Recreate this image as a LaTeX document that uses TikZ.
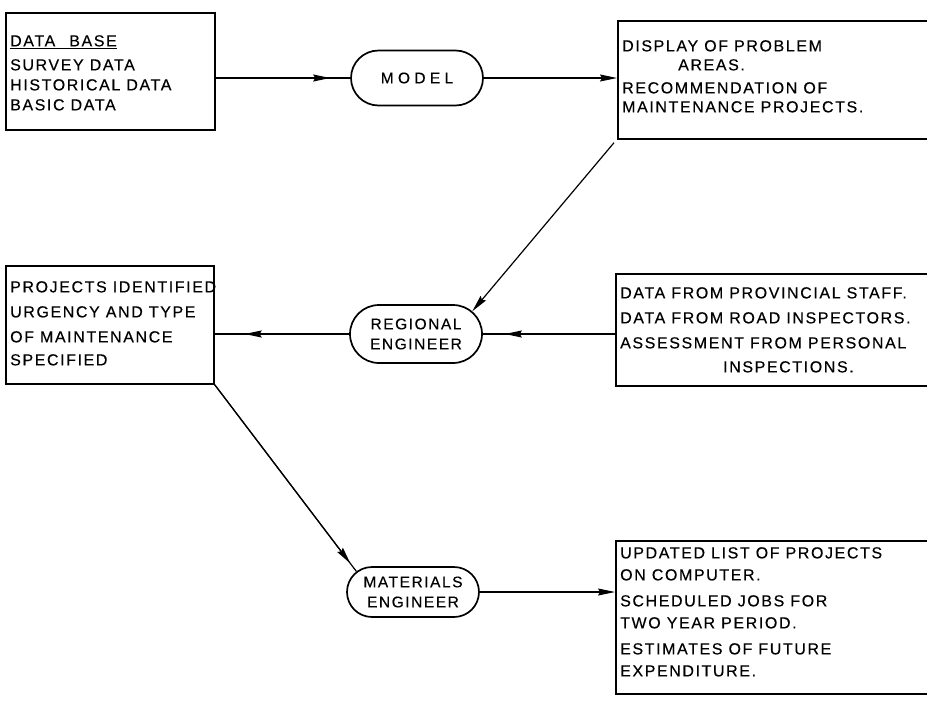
\documentclass[tikz,border=0pt]{standalone}
\usepackage{fontspec}
\setmainfont{Liberation Sans}[LetterSpace=10,FakeBold=0.3]
\usetikzlibrary{arrows.meta,calc,shapes.misc}

\begin{document}
\begin{tikzpicture}[x=1pt,y=-1pt,
  box/.style={draw, line width=1.7pt, inner sep=0pt, anchor=north west},
  term/.style={draw, rounded rectangle, line width=1.7pt, minimum width=136pt,
    align=center, inner sep=2pt, font=\fontsize{15.5}{20}\selectfont},
  lbl/.style={anchor=north west, align=left, inner sep=0pt},
  link/.style={line width=1.2pt},
  arrowed/.style={link, -{Stealth[length=17pt,width=7pt,inset=2pt]}}
]
\useasboundingbox (0,0) rectangle (927,702);
\fill[white] (0,0) rectangle (927,702);

% data base
\node[box, minimum width=209pt, minimum height=117pt] (db) at (5,12) {};
\node[lbl, font=\fontsize{16}{20}\selectfont] (dbtext) at (10,35)
  {\underline{DATA\hspace{14pt}BASE}\\[4pt] SURVEY DATA\\ HISTORICAL DATA\\ BASIC DATA};

% model
\node[term, minimum height=55pt] (model) at (417,78)
  {\addfontfeature{LetterSpace=28}MODEL};

% display of problem areas (box runs off the right edge)
\node[box, minimum width=350pt, minimum height=118pt] (disp) at (617,20) {};
\node[lbl, font=\fontsize{16}{19}\selectfont] (disptext) at (622,40)
  {DISPLAY OF PROBLEM\\ \hspace*{56pt}AREAS.\\[4pt] RECOMMENDATION OF\\ MAINTENANCE PROJECTS.};

% regional engineer
\node[term, minimum height=58pt] (reg) at (416,334) {REGIONAL\\ENGINEER};

% projects identified
\node[box, minimum width=208pt, minimum height=118pt] (proj) at (5,265) {};
\node[lbl, font=\fontsize{16}{25}\selectfont] (projtext) at (10,281)
  {PROJECTS IDENTIFIED\\ URGENCY AND TYPE\\ OF MAINTENANCE\\[-2pt] SPECIFIED};

% data from provincial staff
\node[box, minimum width=350pt, minimum height=112pt] (prov) at (615,273) {};
\node[lbl, font=\fontsize{16}{25}\selectfont] (provtext) at (620,287)
  {DATA FROM PROVINCIAL STAFF.\\ DATA FROM ROAD INSPECTORS.\\ ASSESSMENT FROM PERSONAL\\[-1pt] \hspace*{103pt}INSPECTIONS.};

% materials engineer
\node[term, minimum height=50pt] (mat) at (413,592) {MATERIALS\\ENGINEER};

% updated list of projects
\node[box, minimum width=350pt, minimum height=153pt] (upd) at (615,540) {};
\node[lbl, font=\fontsize{16}{22}\selectfont] (updtext) at (620,547)
  {UPDATED LIST OF PROJECTS\\ ON COMPUTER.\\[4pt] SCHEDULED JOBS FOR\\ TWO YEAR PERIOD.\\[4pt] ESTIMATES OF FUTURE\\ EXPENDITURE.};

% connectors
\coordinate (dbout) at (db.east |- model.west);
\draw[link] (dbout) -- (model.west);
\draw[arrowed] (dbout) -- ($(model.west)!20pt!(dbout)$);

\draw[arrowed] (model.east) -- (model.east -| disp.west);

\draw[arrowed] ($(disp.south west)+(-3,3)$) -- (reg.22);

\coordinate (provin) at (reg.east -| prov.west);
\draw[link] (provin) -- (reg.east);
\draw[arrowed] (provin) -- ($(reg.east)!22pt!(provin)$);

\coordinate (projin) at (reg.west -| proj.east);
\draw[link] (reg.west) -- (projin);
\draw[arrowed] (reg.west) -- ($(projin)!30pt!(reg.west)$);

\draw[link] (proj.south east) -- (mat.160);
\draw[arrowed] (proj.south east) -- ($(mat.160)!10pt!(proj.south east)$);

\draw[arrowed] (mat.east) -- (mat.east -| upd.west);
\end{tikzpicture}
\end{document}
